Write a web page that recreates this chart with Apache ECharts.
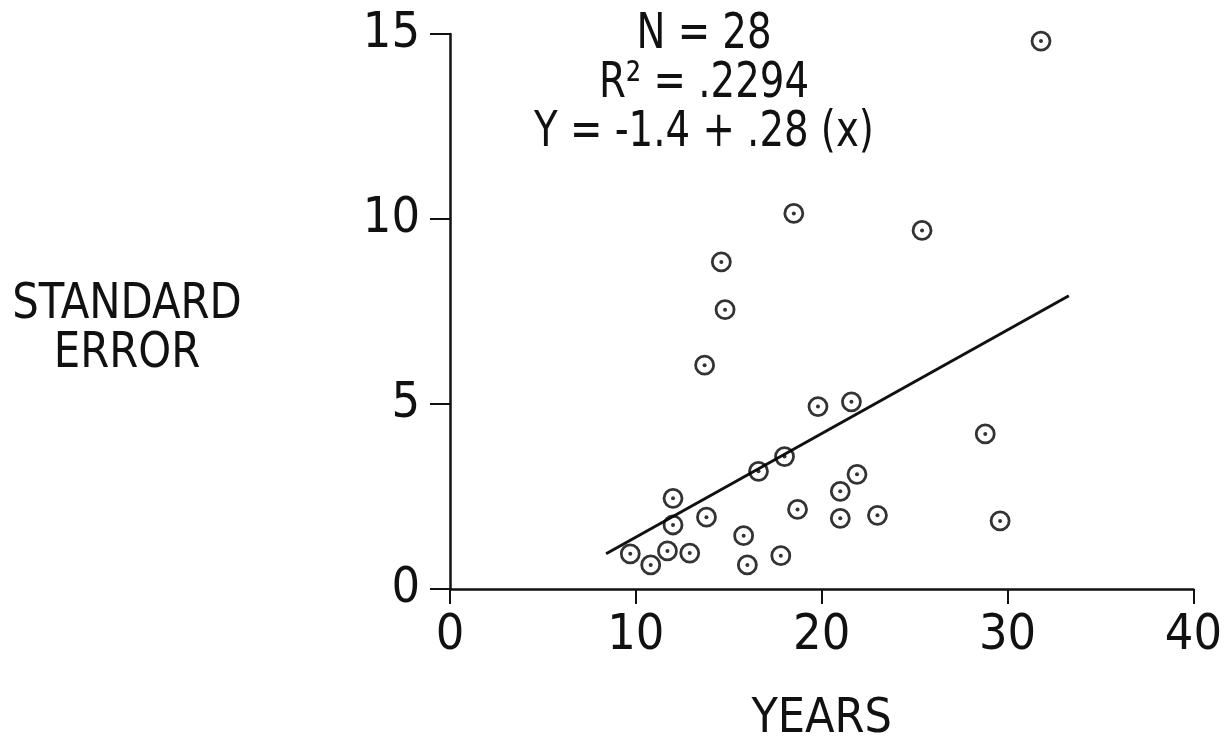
<!DOCTYPE html>
<html>
<head>
<meta charset="utf-8">
<title>Standard error vs years</title>
<script src="https://cdn.jsdelivr.net/npm/echarts@6/dist/echarts.min.js"></script>
<style>
  html, body { margin: 0; padding: 0; background: #fff; }
  #chart { width: 1225px; height: 749px; }
</style>
</head>
<body>
<div id="chart"></div>
<script>
// Observations: years of service vs. standard error
const years     = [9.7, 10.8, 11.7, 12.0, 12.0, 12.9, 13.7, 13.8, 14.6, 14.8, 15.8, 16.0, 16.6, 17.8,
                   18.0, 18.5, 18.7, 19.8, 21.0, 21.0, 21.6, 21.9, 23.0, 25.4, 28.8, 29.6, 31.8];
const stdError  = [0.95, 0.65, 1.03, 1.73, 2.45, 0.97, 6.05, 1.94, 8.84, 7.55, 1.44, 0.65, 3.18, 0.90,
                   3.58, 10.15, 2.15, 4.93, 2.64, 1.91, 5.06, 3.10, 1.99, 9.69, 4.19, 1.84, 14.81];

// Fitted regression line Y = -1.4 + .28 (x), drawn across the observed span
const fitIntercept = -1.4;
const fitSlope = 0.28;
const fitSpan = [8.4, 33.3];

const xTicks = [0, 10, 20, 30, 40];
const yTicks = [0, 5, 10, 15];
const statLines = ['N = 28', 'R\u00b2 = .2294', 'Y = -1.4 + .28 (x)'];
const xName = 'YEARS';
const yName = 'STANDARD\nERROR';

const FONT = "'Liberation Sans Narrow', 'DejaVu Sans Condensed', 'Roboto Condensed', 'Liberation Sans', sans-serif";
const INK = '#111';

const points = years.map((x, i) => [x, stdError[i]]);
const fitLine = fitSpan.map(x => [x, fitIntercept + fitSlope * x]);

const chart = echarts.init(document.getElementById('chart'), null, { renderer: 'canvas' });
chart.setOption({
  backgroundColor: '#fff',
  animation: false,
  graphic: [
    {
      // regression statistics block above the plot
      type: 'text',
      x: 704, y: 11,
      scaleX: 0.86,
      style: {
        text: statLines.join('\n'),
        font: '50px ' + FONT,
        lineHeight: 49,
        fill: INK,
        textAlign: 'center',
        textVerticalAlign: 'top'
      }
    },
    {
      // vertical axis title, set horizontally to the left of the plot
      type: 'text',
      x: 127, y: 330,
      scaleX: 0.93,
      style: {
        text: yName,
        font: '50px ' + FONT,
        lineHeight: 49,
        fill: INK,
        textAlign: 'center',
        textVerticalAlign: 'middle'
      }
    }
  ],
  grid: { left: 450, right: 26, top: 34, bottom: 158, containLabel: false },
  xAxis: {
    type: 'value',
    min: xTicks[0], max: xTicks[xTicks.length - 1], interval: xTicks[1] - xTicks[0],
    name: xName, nameLocation: 'middle', nameGap: 107,
    nameTextStyle: { fontFamily: FONT, fontSize: 48, color: INK },
    axisLine: { show: true, onZero: false, lineStyle: { color: INK, width: 2.5 } },
    axisTick: { show: true, length: 15, lineStyle: { color: INK, width: 2 } },
    axisLabel: { fontFamily: FONT, fontSize: 50, color: INK, margin: 22 },
    splitLine: { show: false }
  },
  yAxis: {
    type: 'value',
    min: yTicks[0], max: yTicks[yTicks.length - 1], interval: yTicks[1] - yTicks[0],
    axisLine: { show: true, onZero: false, lineStyle: { color: INK, width: 2.5 } },
    axisTick: { show: true, length: 20, lineStyle: { color: INK, width: 2 } },
    axisLabel: { fontFamily: FONT, fontSize: 50, color: INK, margin: 30 },
    splitLine: { show: false }
  },
  series: [
    {
      type: 'line',
      data: fitLine,
      showSymbol: false,
      symbol: 'none',
      lineStyle: { color: INK, width: 3 },
      z: 2
    },
    {
      type: 'scatter',
      data: points,
      symbol: 'circle',
      symbolSize: 18,
      itemStyle: { color: 'rgba(255,255,255,0)', borderColor: '#000', borderWidth: 2.8 },
      z: 3
    },
    {
      type: 'scatter',
      data: points,
      symbol: 'circle',
      symbolSize: 4,
      itemStyle: { color: '#000' },
      z: 4
    }
  ]
});
</script>
</body>
</html>
